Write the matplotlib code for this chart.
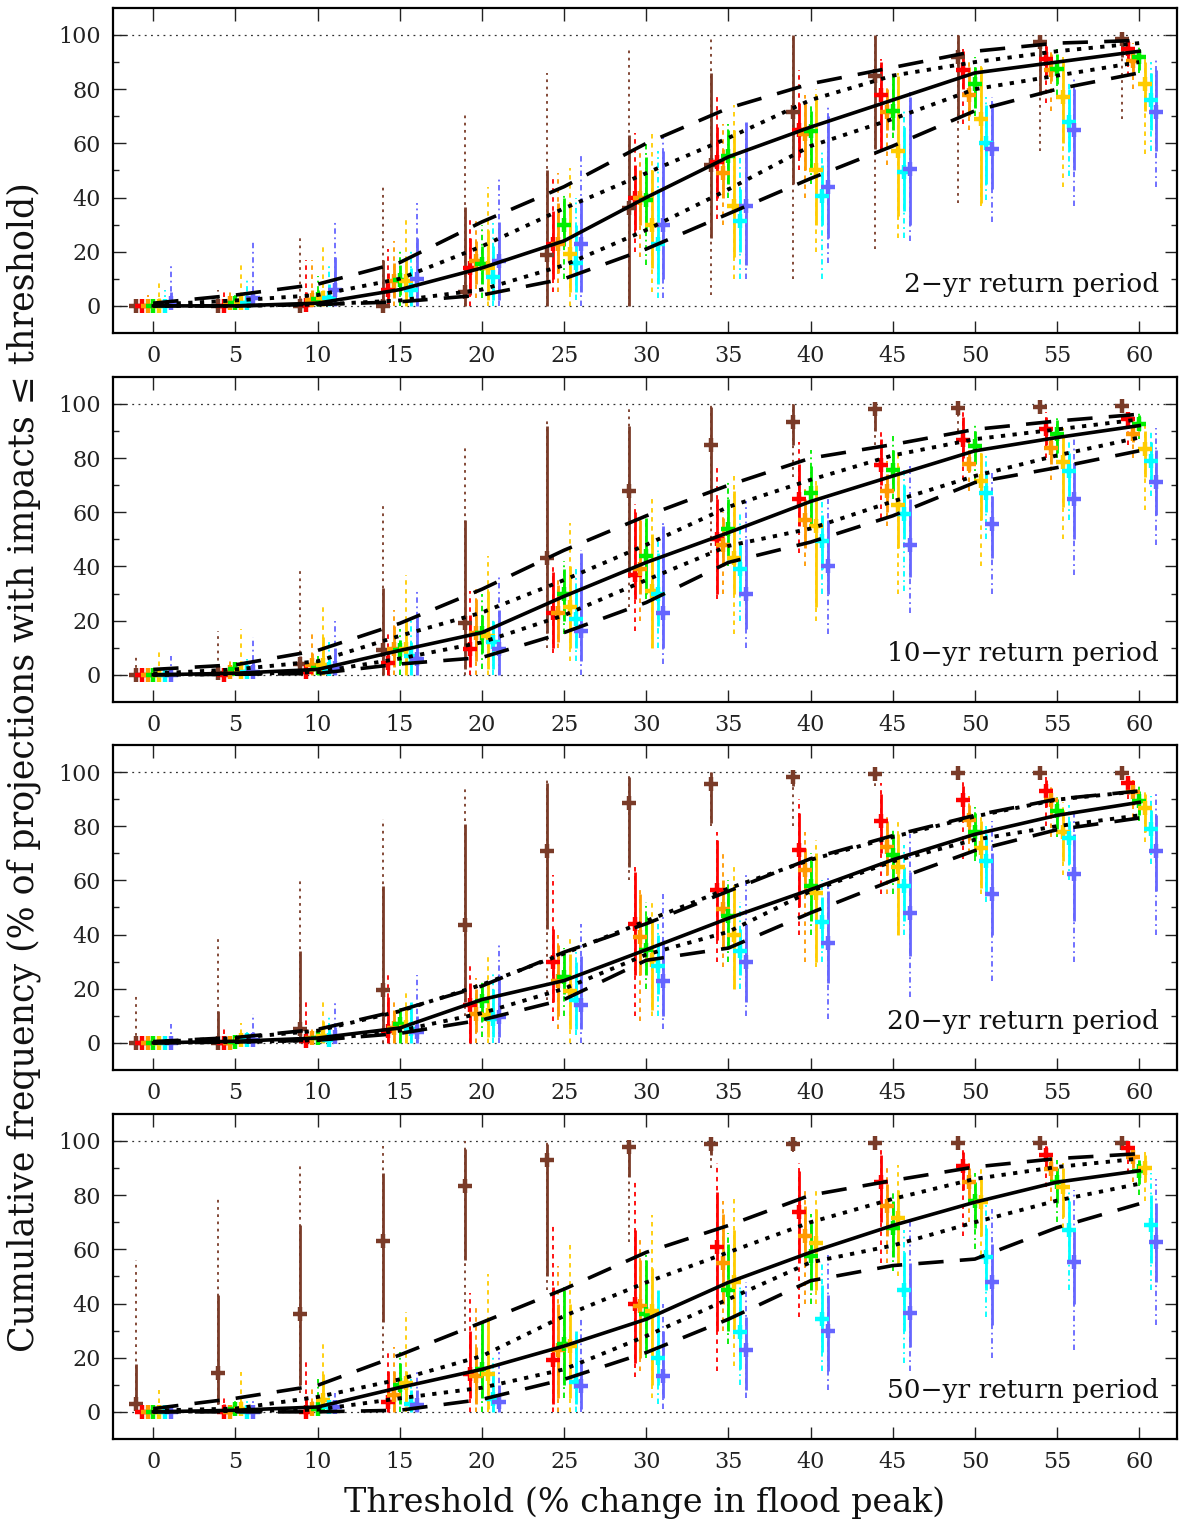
import matplotlib
matplotlib.use("Agg")
import matplotlib.pyplot as plt
import numpy as np

plt.rcParams['font.family'] = ['DejaVu Serif']

THRESHOLDS = [0, 5, 10, 15, 20, 25, 30, 35, 40, 45, 50, 55, 60]
PANEL_LABELS = ["2\u2212yr return period", "10\u2212yr return period",
                "20\u2212yr return period", "50\u2212yr return period"]
SERIES = ["brown", "red", "orange", "green", "gold", "cyan", "blue"]

# ---------------- Panel 1: 2-yr ----------------
P1_MEDIAN = [0, 0, 1, 6, 14, 24, 40, 55, 66, 76, 86, 90, 94]
P1_DOT_HI = [0.5, 2, 4, 10, 22, 36, 49, 62, 76, 85, 90, 94, 97]
P1_DOT_LO = [0, 0, 0.5, 2, 6, 15, 28, 43, 59, 69, 80, 85, 90]
P1_DASH_HI = [1, 4, 8, 16, 31, 44, 60, 73, 82, 88, 94, 97, 98]
P1_DASH_LO = [0, 0, 0.5, 1.5, 4, 10, 21, 34, 47, 59, 72, 80, 86]
P1_MED = [
    [0, 0, 0, 0, 5, 18.7, 36, 52, 71.5, 85, 92, 97.5, 98.5],
    [0, 0, 0.5, 6, 14, 23, 40, 53, 65, 78, 87, 91, 95],
    [0, 1, 2, 9, 16.5, 23, 40, 49, 63.5, 71.5, 78, 87, 90.5],
    [0, 1, 2.5, 9.5, 15.6, 30, 39, 55.5, 64.5, 72, 82, 87.5, 92],
    [0, 1, 3, 9, 14, 19, 30, 37, 50, 57, 69, 77, 82],
    [0, 1, 3, 6, 10.7, 16, 23, 31.5, 40.5, 49.5, 60, 68, 76],
    [1, 3, 6, 10, 16.6, 23, 30, 37, 44, 50.5, 58, 65, 71.5],
]
P1_IN_LO = [
    [0, 0, 0, 0, 0, 0, 0, 25, 45, 58, 70, 78, 92],
    [0, 0, 0, 0, 4, 10, 28, 40, 55, 58, 80, 85, 90],
    [0, 0, 0, 3, 8, 12, 30, 40, 50, 65, 70, 83, 86],
    [0, 0, 0, 4, 8, 22, 28, 45, 50, 65, 73, 82, 87],
    [0, 0, 0, 0, 2, 5, 14, 18, 30, 33, 38, 60, 72],
    [0, 0, 0, 0, 2, 5, 8, 20, 30, 35, 45, 57, 65],
    [0, 0, 0, 0, 2, 5, 10, 15, 25, 30, 43, 50, 57],
]
P1_IN_HI = [
    [0, 0, 3, 17, 36.5, 50, 63, 86, 100, 100, 100, 100, 100],
    [0, 2, 5, 12, 25, 35, 52, 66, 75, 90, 94, 96, 98],
    [1, 3, 6, 16, 24, 38, 50, 58, 75, 80, 88, 93, 94],
    [1, 3, 6, 15, 22, 40, 55, 65, 72, 85, 88, 93, 95],
    [3, 4, 6, 18, 28, 38, 50, 65, 78, 85, 88, 90, 90],
    [2, 4, 8, 14, 22, 30, 43, 43, 52, 66, 74, 80, 86],
    [5, 5, 18, 25, 31, 40, 57, 68, 70, 77, 75, 80, 87],
]
P1_OUT_LO = [
    [0, 0, 0, 0, 0, 0, 0, 4, 10, 21, 38, 57, 69],
    [0, 0, 0, 0, 0, 5, 20, 32, 50, 57, 67, 75, 85],
    [0, 0, 0, 0, 3, 5, 18, 30, 40, 52, 65, 72, 80],
    [0, 0, 0, 0, 3, 10, 15, 40, 45, 62, 70, 78, 86],
    [0, 0, 0, 0, 0, 0, 5, 10, 20, 25, 37, 44, 56],
    [0, 0, 0, 0, 0, 2, 3, 10, 10, 25, 39, 48, 57],
    [0, 0, 0, 0, 0, 0, 3, 10, 16, 24, 31, 37, 44],
]
P1_OUT_HI = [
    [1, 6, 25, 44, 72, 86, 96, 99, 100, 100, 100, 100, 100],
    [1, 6, 17, 21, 32, 48, 64, 78, 87, 91, 95, 98, 99],
    [4, 6, 17, 24, 32, 49, 58, 67, 78, 82, 90, 95, 97],
    [2, 5, 11, 21, 30, 41, 60, 67, 75, 86, 92, 95, 96],
    [10, 15, 23, 32, 44, 51, 64, 74, 80, 86, 89, 92, 92],
    [6, 10, 16, 21, 31, 40, 57, 58, 58, 72, 77, 83, 90],
    [15, 24, 31, 38, 48, 56, 63, 68, 74, 79, 77, 84, 91],
]

# ---------------- Panel 2: 10-yr ----------------
P2_MEDIAN = [0, 0.6, 2, 9, 15.6, 29, 41.5, 52.5, 64, 73.4, 82.7, 87.6, 92]
P2_DOT_HI = [0.5, 2, 5, 14.4, 23, 35, 48, 62, 72, 81, 87, 90.6, 94.3]
P2_DOT_LO = [0, 0.3, 1, 6, 12, 22, 35, 47.6, 54, 64, 73.4, 81, 87.6]
P2_DASH_HI = [2, 3.7, 9, 19, 31.6, 46, 58.7, 70, 80, 85, 90.6, 93.7, 96.2]
P2_DASH_LO = [0, 0.2, 0.5, 4, 6.4, 15.6, 26.7, 41.5, 49, 58.7, 71, 76.5, 82.7]
P2_MED = [
    [0, 0.5, 4, 9, 19, 43.3, 68, 85, 93.5, 98, 98.6, 99, 99.3],
    [0, 0, 1, 4.3, 9.5, 23, 37, 50, 65, 77.4, 86.6, 90.6, 94.6],
    [0, 1, 3.7, 9.5, 15.6, 23, 39, 48, 57, 68, 78, 83.6, 89],
    [0, 2, 2.5, 9, 15.6, 30, 44, 54, 67, 75.6, 84.5, 88.8, 92.7],
    [0, 1, 3.7, 9.5, 14.4, 25, 31, 43, 55, 62.6, 71.6, 78.6, 83.5],
    [0, 1, 2, 7, 12, 20.5, 30, 39, 49.5, 59.5, 67, 75.3, 79],
    [0, 1, 2.5, 5.8, 9.5, 16, 23, 30, 40, 48, 55.8, 64.8, 71.2],
]
P2_IN_LO = [
    [0, 0, 0, 0, 2, 15.6, 36, 64, 85, 90, 96, 97, 98],
    [0, 0, 0, 0, 3, 10, 28, 30, 55, 70, 80, 85, 91],
    [0, 0, 0, 3, 5, 12, 30, 40, 47, 60, 75, 78, 86],
    [0, 0, 0, 4, 8, 20, 30, 44, 55, 68, 78, 82, 90],
    [0, 0, 0, 0, 2, 10, 10, 30, 25, 47, 57, 62, 73],
    [0, 0, 0, 0, 2, 10, 18, 30, 39, 50, 60, 66, 72],
    [0, 0, 0, 0, 0, 5, 10, 17, 30, 36, 43, 50, 59],
]
P2_IN_HI = [
    [0, 2, 7, 32, 57, 92, 92, 99, 100, 100, 100, 100, 100],
    [0, 1, 3, 10, 22, 38, 60, 65, 78, 87, 95, 95, 97],
    [1, 3, 8, 18, 28, 33, 57, 58, 65, 74, 83, 88, 93],
    [1, 3, 5, 13, 22, 39, 58, 65, 77, 83, 90, 94, 96],
    [2, 5, 14, 20, 31, 40, 52, 68, 70, 77, 82, 88, 90],
    [1, 3, 6, 12, 20, 32, 45, 48, 59, 70, 75, 82, 86],
    [3, 5, 10, 23, 24, 45, 55, 50, 57, 65, 66, 78, 83],
]
P2_OUT_LO = [
    [0, 0, 0, 0, 0, 10, 25, 45, 73, 85, 90, 97, 98],
    [0, 0, 0, 0, 0, 8, 16, 28, 45, 58, 72, 80, 85],
    [0, 0, 0, 0, 0, 10, 20, 30, 40, 55, 68, 72, 80],
    [0, 0, 0, 0, 2, 15, 28, 40, 55, 65, 72, 80, 87],
    [0, 0, 0, 0, 0, 5, 10, 15, 20, 30, 40, 50, 61],
    [0, 0, 0, 0, 0, 5, 10, 20, 30, 31, 50, 57, 66],
    [0, 0, 0, 0, 0, 0, 4, 10, 15, 23, 30, 37, 48],
]
P2_OUT_HI = [
    [7, 16, 39, 63, 84, 95, 99, 100, 100, 100, 100, 100, 100],
    [1, 3, 5, 15, 31, 40, 63, 78, 86, 90, 97, 97, 98],
    [3, 6, 16, 24, 32, 36, 58, 60, 70, 79, 86, 91, 95],
    [2, 4, 7, 17, 30, 42, 56, 72, 83, 88, 93, 96, 97],
    [10, 17, 26, 37, 44, 56, 66, 74, 72, 82, 86, 91, 92],
    [3, 6, 12, 21, 21, 39, 50, 60, 65, 76, 82, 87, 90],
    [7, 14, 20, 31, 37, 46, 56, 64, 65, 77, 75, 87, 91],
]

# ---------------- Panel 3: 20-yr ----------------
P3_MEDIAN = [0, 0.6, 1.8, 5.5, 16, 23, 34.4, 46, 56.6, 67.6, 77, 84, 88.8]
P3_DOT_HI = [0.3, 1.8, 4.5, 11.7, 21.5, 33, 45, 57, 67.6, 76, 83.6, 89.8, 92.9]
P3_DOT_LO = [0, 0.3, 1, 4.5, 11, 20, 32.6, 41, 56, 67, 75, 80, 84]
P3_DASH_HI = [0.5, 2, 5, 12, 21, 33.5, 44, 56, 68, 76.5, 84, 90, 93]
P3_DASH_LO = [0, 0.3, 1, 3.5, 8.5, 16, 30.5, 35, 48, 60, 71, 78.7, 83]
P3_MED = [
    [0, 0, 5, 19.7, 43.5, 70.8, 88.6, 95.7, 98, 99.3, 99.6, 99.6, 99.6],
    [0, 0, 0.6, 4.3, 14, 29.8, 44, 56.6, 71.3, 82, 89.8, 92.9, 96],
    [0, 0, 1.8, 5.5, 10.5, 22.8, 39, 49.4, 63.7, 72.3, 82.4, 89.8, 92.5],
    [0, 0.5, 1.8, 6.8, 15.4, 24.4, 34.4, 47, 57.8, 69.5, 78, 85.5, 89.2],
    [0, 1, 2.5, 6, 10.2, 19, 30.5, 40, 55.3, 65, 72, 78, 86.6],
    [0, 1, 1.2, 5, 9, 16, 28.5, 34, 44.5, 57.8, 67, 75.6, 79],
    [0, 1, 2, 4, 9.5, 14, 22.8, 29.8, 37, 48, 55, 62.4, 71],
]
P3_IN_LO = [
    [0, 0, 0, 3, 15, 42, 65, 81, 95, 97, 98, 98, 98],
    [0, 0, 0, 0, 0, 15, 25, 38, 50, 70, 82, 87, 92],
    [0, 0, 0, 0, 4, 10, 25, 35, 56, 62, 75, 84, 88],
    [0, 0, 0, 0, 8, 18, 25, 35, 45, 60, 69, 79, 84],
    [0, 0, 0, 0, 2, 5, 12, 20, 30, 40, 57, 67, 78],
    [0, 0, 0, 0, 2, 5, 18, 25, 35, 45, 55, 66, 70],
    [0, 0, 0, 0, 2, 5, 10, 15, 22, 32, 40, 45, 56],
]
P3_IN_HI = [
    [0, 11.7, 34, 58, 80.7, 96, 98, 100, 100, 100, 100, 100, 100],
    [0, 2, 5, 17, 22, 42, 63, 75, 85, 92, 95, 97, 98],
    [0, 1, 4, 12, 20, 36, 55, 60, 72, 82, 88, 94, 95],
    [0, 2, 4, 13, 22, 34, 47, 56, 67, 77, 85, 90, 93],
    [1, 3, 8, 13, 23, 33, 45, 58, 70, 77, 82, 86, 92],
    [1, 3, 5, 15, 20, 30, 40, 42, 54, 65, 77, 82, 86],
    [2, 4, 6, 10, 25, 32, 38, 44, 56, 63, 70, 77, 84],
]
P3_OUT_LO = [
    [0, 0, 0, 0, 10, 16, 60, 80, 80, 95, 97, 97, 97],
    [0, 0, 0, 0, 0, 8, 10, 30, 40, 55, 68, 80, 90],
    [0, 0, 0, 0, 0, 5, 8, 28, 30, 55, 70, 76, 83],
    [0, 0, 0, 0, 2, 10, 20, 30, 40, 55, 67, 76, 82],
    [0, 0, 0, 0, 0, 0, 10, 20, 28, 40, 55, 62, 74],
    [0, 0, 0, 0, 0, 3, 10, 20, 30, 40, 52, 60, 66],
    [0, 0, 0, 0, 0, 0, 5, 10, 9, 17, 23, 30, 40],
]
P3_OUT_HI = [
    [17.9, 39.4, 60, 82.5, 94.5, 98, 100, 100, 100, 100, 100, 100, 100],
    [1, 5, 15, 26, 29, 62, 65, 78, 90, 96, 97, 98, 99],
    [1, 3, 6, 16, 24, 40, 58, 70, 78, 85, 91, 95, 97],
    [1, 3, 5, 13, 23, 35, 52, 60, 70, 79, 87, 91, 95],
    [3, 7.4, 15, 20, 32, 40, 52, 66, 75, 82, 85, 89, 94],
    [2, 5, 10, 16, 26, 35, 45, 52, 60, 73, 80, 88, 91],
    [6.8, 10.5, 15, 25, 36, 44, 55, 62, 62, 77, 82, 86, 92],
]

# ---------------- Panel 4: 50-yr ----------------
P4_MEDIAN = [0, 0.6, 1.8, 9, 15.7, 24.3, 34.2, 47.8, 58.9, 68.8, 77.4, 84.8, 89]
P4_DOT_HI = [0.5, 1.2, 5.5, 12, 20.6, 35.4, 47.8, 58.9, 70, 78.6, 86, 90.4, 93.5]
P4_DOT_LO = [0, 0.3, 0.8, 5, 8.9, 15.7, 28, 41.6, 55.2, 61.4, 70, 78, 84.2]
P4_DASH_HI = [1.2, 5, 9.8, 21, 33, 45.3, 58.9, 68.8, 80, 85.4, 90.4, 93.5, 95.3]
P4_DASH_LO = [0, 0, 0, 0.6, 4.6, 12, 21.9, 34.2, 48.4, 54, 56.4, 68, 76.8]
P4_MED = [
    [3, 14.2, 36, 63, 83.4, 93, 97.8, 99, 99, 99.4, 99.4, 99.4, 99.4],
    [0, 0, 0, 3.7, 13.8, 19, 39.8, 60.7, 73.7, 84.8, 90.7, 94.7, 97.4],
    [0, 0, 1.2, 6.2, 13.2, 23, 39, 55, 65, 76, 85, 89.5, 94],
    [0, 1, 1.2, 9.8, 15.7, 25, 36, 45, 57.4, 68, 78, 85, 89],
    [0, 1, 4.3, 10.5, 13.8, 24.3, 37.3, 47.8, 62.3, 71.5, 77.4, 83, 90],
    [0, 0, 1.8, 3, 4.6, 11, 19.8, 29.5, 34.4, 45, 57, 67.3, 68.8],
    [0, 0, 1.8, 2.5, 3.6, 9.5, 13.2, 23, 30, 36.4, 47.8, 55.2, 62.6],
]
P4_IN_LO = [
    [0, 3, 10, 33, 56, 50, 86.7, 95, 97, 98, 98, 98, 98],
    [0, 0, 0, 0, 5, 3, 18, 30, 55, 70, 82, 90, 95],
    [0, 0, 0, 0, 3, 5, 20, 40, 55, 65, 77, 85, 90],
    [0, 0, 0, 3, 5, 10, 22, 30, 45, 57, 68, 77, 84],
    [0, 0, 0, 2, 1, 5, 10, 30, 45, 55, 65, 72, 85],
    [0, 0, 0, 0, 0, 3, 10, 16, 22, 30, 45, 55, 55],
    [0, 0, 0, 0, 0, 1, 5, 8, 15, 24, 32, 40, 48],
]
P4_IN_HI = [
    [17.8, 43, 69, 88, 97, 99, 100, 100, 100, 100, 100, 100, 100],
    [0, 3, 6, 15, 30, 46, 67, 81, 89, 95, 96, 98, 99],
    [0, 1, 4, 15, 24, 40, 56, 73, 76, 84, 90, 94, 97],
    [1, 3, 5, 18, 33, 45, 56, 62, 70, 78, 85, 90, 93],
    [2, 4, 14, 15, 34, 40, 53, 67, 75, 82, 86, 90, 95],
    [1, 2, 4, 8, 15, 30, 45, 45, 47, 59, 68, 78, 80],
    [1, 2, 4, 8, 10, 19, 30, 35, 43, 55, 62, 68, 77],
]
P4_OUT_LO = [
    [0, 0, 7, 20, 30, 45, 62.6, 90, 96, 97, 97, 97, 97],
    [0, 0, 0, 0, 0, 0, 13, 15, 35, 55, 65, 83, 88],
    [0, 0, 0, 0, 0, 0, 15, 30, 40, 55, 70, 78, 85],
    [0, 0, 0, 0, 0, 5, 20, 25, 40, 52, 60, 70, 80],
    [0, 0, 0, 0, 0, 0, 5, 17, 40, 50, 58, 68, 78],
    [0, 0, 0, 0, 0, 0, 3, 10, 15, 18, 35, 45, 45],
    [0, 0, 0, 0, 0, 0, 1, 5, 8, 15, 20, 23, 32],
]
P4_OUT_HI = [
    [56, 78.4, 92, 98, 100, 100, 100, 100, 100, 100, 100, 100, 100],
    [1, 6, 20, 22, 44, 69, 86, 92, 92, 97, 98, 99, 100],
    [1, 3, 10, 24, 39, 54, 65, 78, 82, 90, 93, 95, 98],
    [2, 5, 12, 22, 33, 46, 58, 66, 73, 82, 88, 93, 95],
    [8, 14.8, 26, 37, 51, 63, 72.5, 80, 82, 91, 90, 92, 96],
    [2, 4, 6, 12, 21, 30, 45, 50, 55, 67, 78, 83, 88],
    [2, 4, 7, 15, 22, 35, 40, 48, 58, 70, 75, 82, 86],
]

PANELS = [
    (P1_MEDIAN, P1_DOT_HI, P1_DOT_LO, P1_DASH_HI, P1_DASH_LO, P1_MED, P1_IN_LO, P1_IN_HI, P1_OUT_LO, P1_OUT_HI),
    (P2_MEDIAN, P2_DOT_HI, P2_DOT_LO, P2_DASH_HI, P2_DASH_LO, P2_MED, P2_IN_LO, P2_IN_HI, P2_OUT_LO, P2_OUT_HI),
    (P3_MEDIAN, P3_DOT_HI, P3_DOT_LO, P3_DASH_HI, P3_DASH_LO, P3_MED, P3_IN_LO, P3_IN_HI, P3_OUT_LO, P3_OUT_HI),
    (P4_MEDIAN, P4_DOT_HI, P4_DOT_LO, P4_DASH_HI, P4_DASH_LO, P4_MED, P4_IN_LO, P4_IN_HI, P4_OUT_LO, P4_OUT_HI),
]

# ---------------- styling ----------------
COLORS = ["#7a3b28", "#ff0000", "#ff9900", "#00ee00", "#ffcc00", "#00ffff", "#6666ff"]
OFFSETS = [-1.05, -0.7, -0.35, 0.0, 0.35, 0.7, 1.05]
OUT_STYLES = [(0, (1.5, 2.5)), (0, (2.5, 2.5)), (0, (2.5, 2.5)), (0, (3, 2, 1, 2)),
              (0, (2.5, 2.5)), (0, (3, 2, 1, 2)), (0, (3, 2, 1, 2))]

fig = plt.figure(figsize=(11.81, 15.19), dpi=100)
LEFT, WIDTH, HEIGHT = 0.0957, 0.9009, 0.2140
BOTTOMS = [0.7808, 0.5379, 0.2956, 0.0527]

x = np.array(THRESHOLDS, dtype=float)
for pi, panel in enumerate(PANELS):
    median, dot_hi, dot_lo, dash_hi, dash_lo, med, in_lo, in_hi, out_lo, out_hi = panel
    ax = fig.add_axes([LEFT, BOTTOMS[pi], WIDTH, HEIGHT])
    ax.set_xlim(-2.45, 62.3)
    ax.set_ylim(-10, 110)

    ax.axhline(0, color="#333333", lw=0.9, ls=(0, (1.5, 3.5)), zorder=1)
    ax.axhline(100, color="#333333", lw=0.9, ls=(0, (1.5, 3.5)), zorder=1)

    for si in range(len(SERIES)):
        xs = x + OFFSETS[si]
        c = COLORS[si]
        ax.vlines(xs, out_lo[si], out_hi[si], colors=c, lw=1.3,
                  linestyles=[OUT_STYLES[si]], zorder=2)
        ax.vlines(xs, in_lo[si], in_hi[si], colors=c, lw=2.0, zorder=3)
        ax.plot(xs, med[si], ls="none", marker="+", ms=10, mew=3.2, color=c, zorder=4)

    ax.plot(x, dash_hi, color="black", lw=2.6, ls=(0, (7, 4.5)), zorder=5)
    ax.plot(x, dash_lo, color="black", lw=2.6, ls=(0, (7, 4.5)), zorder=5)
    ax.plot(x, dot_hi, color="black", lw=2.8, ls=(0, (1.1, 1.9)), zorder=5)
    ax.plot(x, dot_lo, color="black", lw=2.8, ls=(0, (1.1, 1.9)), zorder=5)
    ax.plot(x, median, color="black", lw=2.6, ls="-", zorder=6)

    ax.text(61.2, 8, PANEL_LABELS[pi], ha="right", va="center", fontsize=19,
            color="#111111")

    ax.set_xticks(THRESHOLDS)
    ax.set_yticks([0, 20, 40, 60, 80, 100])
    ax.set_yticks([10, 30, 50, 70, 90], minor=True)
    ax.tick_params(which="both", direction="in", top=True, right=True, width=1.0,
                   labelsize=16, colors="#222222")
    ax.tick_params(which="major", length=9, pad=9)
    ax.tick_params(which="minor", length=4.5)
    for sp in ax.spines.values():
        sp.set_linewidth(1.6)

fig.text(0.020, 0.495, "Cumulative frequency (% of projections with impacts \u2264 threshold)",
         rotation=90, ha="center", va="center", fontsize=25, color="#111111")
fig.text(0.546, 0.011, "Threshold (% change in flood peak)", ha="center", va="center",
         fontsize=24, color="#111111")

fig.savefig("out.png", dpi=100)
